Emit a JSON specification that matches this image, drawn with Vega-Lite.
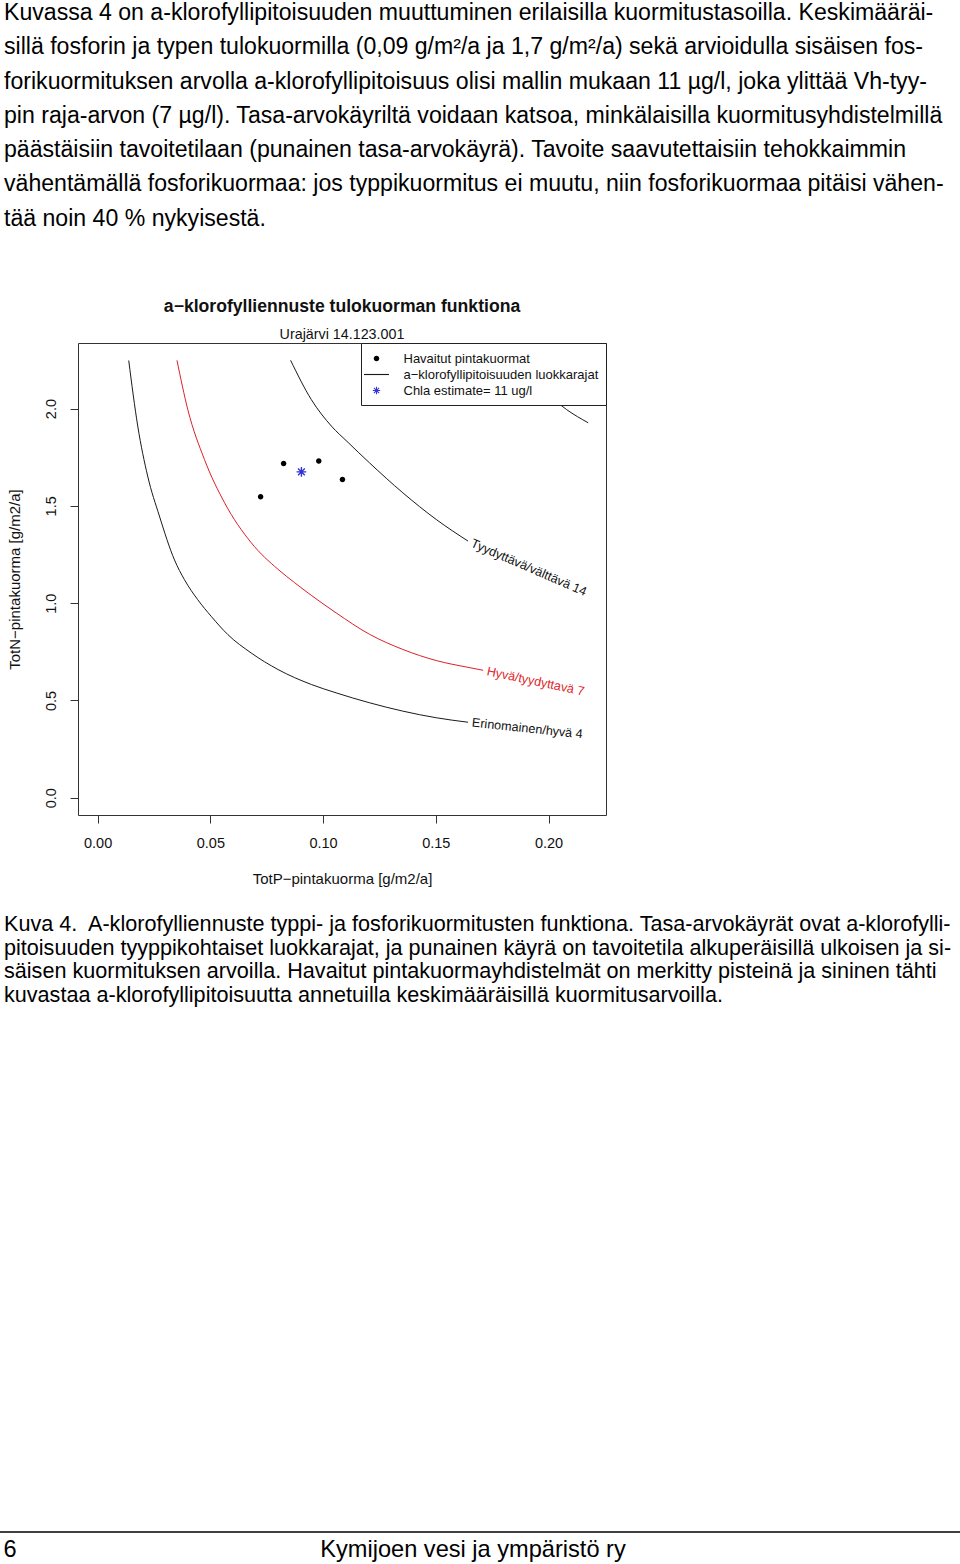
{
  "$schema": "https://vega.github.io/schema/vega-lite/v6.json",
  "width": 528,
  "height": 472,
  "autosize": {"type": "none"},
  "padding": {"left": 78, "top": 343, "right": 354, "bottom": 749},
  "background": "white",
  "config": {
    "font": "Liberation Sans",
    "view": {"stroke": "#333333", "strokeWidth": 1}
  },
  "datasets": {
    "body": [
      {"line": 1, "text": "Kuvassa 4 on a-klorofyllipitoisuuden muuttuminen erilaisilla kuormitustasoilla. Keskimääräi-"},
      {"line": 2, "text": "sillä fosforin ja typen tulokuormilla (0,09 g/m²/a ja 1,7 g/m²/a) sekä arvioidulla sisäisen fos-"},
      {"line": 3, "text": "forikuormituksen arvolla a-klorofyllipitoisuus olisi mallin mukaan 11 µg/l, joka ylittää Vh-tyy-"},
      {"line": 4, "text": "pin raja-arvon (7 µg/l). Tasa-arvokäyriltä voidaan katsoa, minkälaisilla kuormitusyhdistelmillä"},
      {"line": 5, "text": "päästäisiin tavoitetilaan (punainen tasa-arvokäyrä). Tavoite saavutettaisiin tehokkaimmin"},
      {"line": 6, "text": "vähentämällä fosforikuormaa: jos typpikuormitus ei muutu, niin fosforikuormaa pitäisi vähen-"},
      {"line": 7, "text": "tää noin 40 % nykyisestä."}
    ],
    "caption": [
      {"line": 1, "text": "Kuva 4.\u2002A-klorofylliennuste typpi- ja fosforikuormitusten funktiona. Tasa-arvokäyrät ovat a-klorofylli-"},
      {"line": 2, "text": "pitoisuuden tyyppikohtaiset luokkarajat, ja punainen käyrä on tavoitetila alkuperäisillä ulkoisen ja si-"},
      {"line": 3, "text": "säisen kuormituksen arvoilla. Havaitut pintakuormayhdistelmät on merkitty pisteinä ja sininen tähti"},
      {"line": 4, "text": "kuvastaa a-klorofyllipitoisuutta annetuilla keskimääräisillä kuormitusarvoilla."}
    ],
    "heading": [
      {"line": 1, "text": "a−klorofylliennuste tulokuorman funktiona"},
      {"line": 2, "text": "Urajärvi 14.123.001"}
    ],
    "footer": [
      {"page": "6", "publisher": "Kymijoen vesi ja ympäristö ry"}
    ],
    "curveLabels": [
      {"level": 4, "label": "Erinomainen/hyvä 4"},
      {"level": 7, "label": "Hyvä/tyydyttavä 7"},
      {"level": 14, "label": "Tyydyttävä/välttävä 14"}
    ],
    "curves": [
      {"level": 4, "P": 0.0138, "N": 2.247},
      {"level": 4, "P": 0.0178, "N": 1.910},
      {"level": 4, "P": 0.0222, "N": 1.653},
      {"level": 4, "P": 0.0274, "N": 1.448},
      {"level": 4, "P": 0.0341, "N": 1.222},
      {"level": 4, "P": 0.0385, "N": 1.121},
      {"level": 4, "P": 0.0444, "N": 1.018},
      {"level": 4, "P": 0.0504, "N": 0.932},
      {"level": 4, "P": 0.0578, "N": 0.838},
      {"level": 4, "P": 0.0681, "N": 0.744},
      {"level": 4, "P": 0.0800, "N": 0.659},
      {"level": 4, "P": 0.0948, "N": 0.582},
      {"level": 4, "P": 0.1058, "N": 0.539},
      {"level": 4, "P": 0.1206, "N": 0.488},
      {"level": 4, "P": 0.1354, "N": 0.445},
      {"level": 4, "P": 0.1502, "N": 0.411},
      {"level": 4, "P": 0.1643, "N": 0.388},
      {"level": 7, "P": 0.0352, "N": 2.248},
      {"level": 7, "P": 0.0400, "N": 1.995},
      {"level": 7, "P": 0.0474, "N": 1.738},
      {"level": 7, "P": 0.0563, "N": 1.516},
      {"level": 7, "P": 0.0681, "N": 1.311},
      {"level": 7, "P": 0.0800, "N": 1.174},
      {"level": 7, "P": 0.0874, "N": 1.105},
      {"level": 7, "P": 0.0948, "N": 1.040},
      {"level": 7, "P": 0.1058, "N": 0.950},
      {"level": 7, "P": 0.1206, "N": 0.840},
      {"level": 7, "P": 0.1354, "N": 0.762},
      {"level": 7, "P": 0.1502, "N": 0.705},
      {"level": 7, "P": 0.1643, "N": 0.670},
      {"level": 7, "P": 0.1710, "N": 0.655},
      {"level": 14, "P": 0.0856, "N": 2.248},
      {"level": 14, "P": 0.0948, "N": 2.046},
      {"level": 14, "P": 0.1037, "N": 1.910},
      {"level": 14, "P": 0.1111, "N": 1.826},
      {"level": 14, "P": 0.1206, "N": 1.721},
      {"level": 14, "P": 0.1354, "N": 1.567},
      {"level": 14, "P": 0.1502, "N": 1.430},
      {"level": 14, "P": 0.1643, "N": 1.319},
      {"level": 30, "P": 0.1870, "N": 2.248},
      {"level": 30, "P": 0.1920, "N": 2.160},
      {"level": 30, "P": 0.1990, "N": 2.070},
      {"level": 30, "P": 0.2035, "N": 2.035},
      {"level": 30, "P": 0.2080, "N": 1.995},
      {"level": 30, "P": 0.2176, "N": 1.927}
    ],
    "observed": [
      {"series": "Havaitut pintakuormat", "P": 0.0723, "N": 1.547},
      {"series": "Havaitut pintakuormat", "P": 0.0825, "N": 1.718},
      {"series": "Havaitut pintakuormat", "P": 0.0981, "N": 1.730},
      {"series": "Havaitut pintakuormat", "P": 0.1086, "N": 1.636}
    ],
    "estimate": [
      {"series": "Chla estimate= 11 ug/l", "P": 0.0904, "N": 1.675}
    ]
  },
  "layer": [
    {
      "layer": [
        {
          "data": {"name": "curves"},
          "transform": [{"filter": "datum.level !== 7"}],
          "mark": {"type": "line", "color": "#1a1a1a", "strokeWidth": 1, "interpolate": "monotone"},
          "encoding": {
            "x": {
              "field": "P", "type": "quantitative",
              "scale": {"domain": [-0.0087, 0.2255], "nice": false, "zero": false},
              "axis": {
                "orient": "bottom", "values": [0, 0.05, 0.1, 0.15, 0.2], "format": ".2f",
                "domain": false, "grid": false, "tickSize": 8, "tickColor": "#333333", "tickWidth": 1,
                "labelFont": "Liberation Sans", "labelFontSize": 14.5, "labelColor": "#111111", "labelPadding": 13,
                "labelFlush": false, "labelOverlap": false,
                "title": "TotP−pintakuorma [g/m2/a]", "titleFont": "Liberation Sans", "titleFontSize": 15,
                "titleFontWeight": "normal", "titleColor": "#111111", "titlePadding": 22
              }
            },
            "y": {
              "field": "N", "type": "quantitative",
              "scale": {"domain": [-0.0888, 2.337], "nice": false, "zero": false},
              "axis": {
                "orient": "left", "values": [0, 0.5, 1, 1.5, 2], "format": ".1f",
                "domain": false, "grid": false, "tickSize": 8, "tickColor": "#333333", "tickWidth": 1,
                "labelFont": "Liberation Sans", "labelFontSize": 14.5, "labelColor": "#111111", "labelPadding": 15,
                "labelAngle": 270, "labelAlign": "center", "labelBaseline": "alphabetic",
                "labelFlush": false, "labelOverlap": false,
                "title": "TotN−pintakuorma [g/m2/a]", "titleFont": "Liberation Sans", "titleFontSize": 15,
                "titleFontWeight": "normal", "titleColor": "#111111", "titlePadding": 21
              }
            },
            "detail": {"field": "level", "type": "nominal"}
          }
        },
        {
          "data": {"name": "curves"},
          "transform": [{"filter": "datum.level === 7"}],
          "mark": {"type": "line", "color": "#dd1f2b", "strokeWidth": 1, "interpolate": "monotone"},
          "encoding": {
            "x": {"field": "P", "type": "quantitative"},
            "y": {"field": "N", "type": "quantitative"}
          }
        },
        {
          "data": {"name": "curves"},
          "transform": [
            {"joinaggregate": [{"op": "max", "field": "P", "as": "Pend"}], "groupby": ["level"]},
            {"filter": "datum.P === datum.Pend && datum.level === 4"},
            {"lookup": "level", "from": {"data": {"name": "curveLabels"}, "key": "level", "fields": ["label"]}}
          ],
          "mark": {"type": "text", "align": "left", "baseline": "middle", "angle": 6, "dx": 4, "fontSize": 12.6, "font": "Liberation Sans", "color": "#111111"},
          "encoding": {
            "x": {"field": "P", "type": "quantitative"},
            "y": {"field": "N", "type": "quantitative"},
            "text": {"field": "label"}
          }
        },
        {
          "data": {"name": "curves"},
          "transform": [
            {"joinaggregate": [{"op": "max", "field": "P", "as": "Pend"}], "groupby": ["level"]},
            {"filter": "datum.P === datum.Pend && datum.level === 7"},
            {"lookup": "level", "from": {"data": {"name": "curveLabels"}, "key": "level", "fields": ["label"]}}
          ],
          "mark": {"type": "text", "align": "left", "baseline": "middle", "angle": 12, "dx": 4, "fontSize": 12.6, "font": "Liberation Sans", "color": "#dd1f2b"},
          "encoding": {
            "x": {"field": "P", "type": "quantitative"},
            "y": {"field": "N", "type": "quantitative"},
            "text": {"field": "label"}
          }
        },
        {
          "data": {"name": "curves"},
          "transform": [
            {"joinaggregate": [{"op": "max", "field": "P", "as": "Pend"}], "groupby": ["level"]},
            {"filter": "datum.P === datum.Pend && datum.level === 14"},
            {"lookup": "level", "from": {"data": {"name": "curveLabels"}, "key": "level", "fields": ["label"]}}
          ],
          "mark": {"type": "text", "align": "left", "baseline": "middle", "angle": 23.5, "dx": 4, "fontSize": 12.6, "font": "Liberation Sans", "color": "#111111"},
          "encoding": {
            "x": {"field": "P", "type": "quantitative"},
            "y": {"field": "N", "type": "quantitative"},
            "text": {"field": "label"}
          }
        },
        {
          "data": {"name": "observed"},
          "mark": {"type": "point", "filled": true, "size": 256, "opacity": 1, "strokeWidth": 0},
          "encoding": {
            "x": {"field": "P", "type": "quantitative"},
            "y": {"field": "N", "type": "quantitative"},
            "color": {
              "field": "series", "type": "nominal",
              "scale": {
                "domain": ["Havaitut pintakuormat", "a−klorofyllipitoisuuden luokkarajat", "Chla estimate= 11 ug/l"],
                "range": ["#000000", "#1a1a1a", "#3232d6"]
              },
              "legend": {
                "title": null, "orient": "top-right", "offset": 0, "padding": 7.5,
                "fillColor": "#ffffff", "strokeColor": "#222222", "cornerRadius": 0,
                "labelFont": "Liberation Sans", "labelFontSize": 13, "labelColor": "#111111", "labelLimit": 400,
                "labelOffset": 19, "symbolSize": 256, "symbolStrokeWidth": 0, "symbolOpacity": 1, "rowPadding": 1
              }
            },
            "shape": {
              "field": "series", "type": "nominal",
              "scale": {
                "domain": ["Havaitut pintakuormat", "a−klorofyllipitoisuuden luokkarajat", "Chla estimate= 11 ug/l"],
                "range": [
                  "M-0.344,0A0.344,0.344 0 1 0 0.344,0A0.344,0.344 0 1 0 -0.344,0Z",
                  "M-1.5625,-0.07H1.5625V0.07H-1.5625Z",
                  "M-0.46,-0.065H0.46V0.065H-0.46Z M-0.065,-0.46H0.065V0.46H-0.065Z M-0.2793,-0.3712L0.3712,0.2793L0.2793,0.3712L-0.3712,-0.2793Z M-0.3712,0.2793L0.2793,-0.3712L0.3712,-0.2793L-0.2793,0.3712Z"
                ]
              },
              "legend": {
                "title": null, "orient": "top-right", "offset": 0, "padding": 7.5,
                "fillColor": "#ffffff", "strokeColor": "#222222", "cornerRadius": 0,
                "labelFont": "Liberation Sans", "labelFontSize": 13, "labelColor": "#111111", "labelLimit": 400,
                "labelOffset": 19, "symbolSize": 256, "symbolStrokeWidth": 0, "symbolOpacity": 1, "rowPadding": 1
              }
            }
          }
        },
        {
          "data": {"name": "estimate"},
          "mark": {"type": "point", "filled": true, "size": 440, "opacity": 1, "strokeWidth": 0},
          "encoding": {
            "x": {"field": "P", "type": "quantitative"},
            "y": {"field": "N", "type": "quantitative"},
            "color": {"field": "series", "type": "nominal"},
            "shape": {"field": "series", "type": "nominal"}
          }
        }
      ]
    },
    {
      "data": {"name": "body"},
      "mark": {"type": "text", "align": "left", "baseline": "alphabetic", "fontSize": 23.1, "font": "Liberation Sans", "color": "#000000"},
      "encoding": {
        "x": {"datum": 0, "type": "quantitative", "scale": {"domain": [0, 1], "range": [-74, 878]}, "axis": null},
        "y": {"field": "line", "type": "quantitative", "scale": {"domain": [1, 7], "range": [-323, -117.5]}, "axis": null},
        "text": {"field": "text"}
      }
    },
    {
      "data": {"name": "caption"},
      "mark": {"type": "text", "align": "left", "baseline": "alphabetic", "fontSize": 21.6, "font": "Liberation Sans", "color": "#000000"},
      "encoding": {
        "x": {"datum": 0, "type": "quantitative", "scale": {"domain": [0, 1], "range": [-74, 878]}, "axis": null},
        "y": {"field": "line", "type": "quantitative", "scale": {"domain": [1, 4], "range": [588, 659]}, "axis": null},
        "text": {"field": "text"}
      }
    },
    {
      "data": {"name": "heading"},
      "encoding": {
        "y": {"field": "line", "type": "quantitative", "scale": {"domain": [1, 2], "range": [-31, -4]}, "axis": null},
        "text": {"field": "text"}
      },
      "layer": [
        {
          "transform": [{"filter": "datum.line === 1"}],
          "mark": {"type": "text", "align": "center", "baseline": "alphabetic", "fontSize": 17.6, "fontWeight": "bold", "font": "Liberation Sans", "color": "#111111"}
        },
        {
          "transform": [{"filter": "datum.line === 2"}],
          "mark": {"type": "text", "align": "center", "baseline": "alphabetic", "fontSize": 14.3, "font": "Liberation Sans", "color": "#111111"}
        }
      ]
    },
    {
      "data": {"name": "footer"},
      "layer": [
        {
          "mark": {"type": "rule", "color": "#000000", "strokeWidth": 1.3},
          "encoding": {
            "x": {"datum": 0, "type": "quantitative", "scale": {"domain": [0, 1], "range": [-78, 882]}, "axis": null},
            "x2": {"datum": 1},
            "y": {"datum": 0, "type": "quantitative", "scale": {"domain": [0, 1], "range": [1189, 1214]}, "axis": null}
          }
        },
        {
          "mark": {"type": "text", "align": "left", "baseline": "alphabetic", "fontSize": 23.6, "font": "Liberation Sans", "color": "#000000"},
          "encoding": {
            "x": {"datum": 0.0036, "type": "quantitative"},
            "y": {"datum": 1, "type": "quantitative"},
            "text": {"field": "page"}
          }
        },
        {
          "mark": {"type": "text", "align": "center", "baseline": "alphabetic", "fontSize": 23.6, "font": "Liberation Sans", "color": "#000000"},
          "encoding": {
            "x": {"datum": 0.4927, "type": "quantitative"},
            "y": {"datum": 1, "type": "quantitative"},
            "text": {"field": "publisher"}
          }
        }
      ]
    }
  ],
  "resolve": {"scale": {"x": "independent", "y": "independent"}}
}
